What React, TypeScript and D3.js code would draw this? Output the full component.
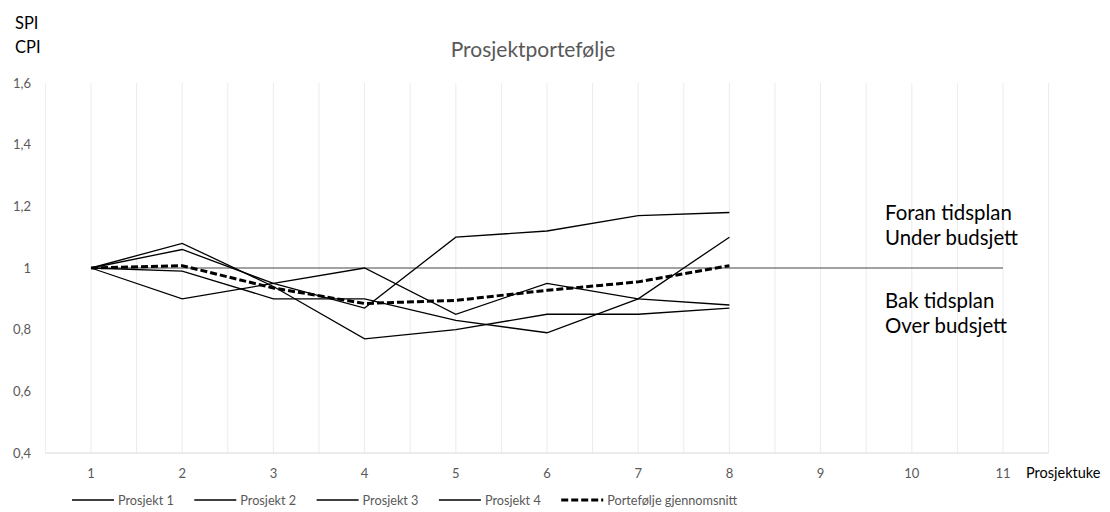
import React from "react";
import * as d3 from "d3";

const weeks = [1, 2, 3, 4, 5, 6, 7, 8];
const prosjekt1 = [1, 1.08, 0.94, 0.77, 0.8, 0.85, 0.85, 0.87];
const prosjekt2 = [1, 1.06, 0.95, 0.87, 1.1, 1.12, 1.17, 1.18];
const prosjekt3 = [1, 0.99, 0.9, 0.9, 0.83, 0.79, 0.9, 1.1];
const prosjekt4 = [1, 0.9, 0.95, 1.0, 0.85, 0.95, 0.9, 0.88];
const gjennomsnitt = [1, 1.0075, 0.935, 0.885, 0.895, 0.9275, 0.955, 1.0075];
const referanseX = [1, 11];
const referanseY = [1, 1];
const xTicks = [1, 2, 3, 4, 5, 6, 7, 8, 9, 10, 11];
const yTicks = [0.4, 0.6, 0.8, 1.0, 1.2, 1.4, 1.6];
const seriesNames = ["Prosjekt 1", "Prosjekt 2", "Prosjekt 3", "Prosjekt 4", "Portefølje gjennomsnitt"];

const W = 1110;
const H = 512;
const FONT = "Lato, 'Open Sans', sans-serif";

export default function App() {
  const x = d3.scaleLinear().domain([0.5, 11.5]).range([45.4, 1048.6]);
  const y = d3.scaleLinear().domain([0.4, 1.6]).range([453, 83]);
  const gridVals = d3.range(0.5, 11.51, 0.5);
  const fmt = (v: number) => (Math.abs(v - 1) < 1e-9 ? "1" : d3.format(".1f")(v).replace(".", ","));

  const line = d3
    .line<[number, number]>()
    .x((d) => x(d[0]))
    .y((d) => y(d[1]));

  const projects = [prosjekt1, prosjekt2, prosjekt3, prosjekt4];
  const toPts = (vals: number[]) => vals.map((v, i) => [weeks[i], v] as [number, number]);

  const legendStart = 72;
  const legendStep = 122.3;
  const legendY = 500;

  return (
    <svg width={W} height={H} style={{ position: "absolute", left: 0, top: 0, background: "#fff" }} fontFamily={FONT}>
      <rect x={0} y={0} width={W} height={H} fill="#fff" />
      {gridVals.map((g, i) => (
        <line key={"g" + i} x1={x(g)} x2={x(g)} y1={83} y2={453} stroke="#ececec" strokeWidth={1} />
      ))}
      <line x1={x(0.5)} x2={x(11.5)} y1={453} y2={453} stroke="#d9d9d9" strokeWidth={1} />
      {yTicks.map((t) => (
        <text key={"y" + t} x={31} y={y(t) + 4.5} textAnchor="end" fontSize={13} fill="#595959">
          {fmt(t)}
        </text>
      ))}
      {xTicks.map((t) => (
        <text key={"x" + t} x={x(t)} y={478} textAnchor="middle" fontSize={13} fill="#595959">
          {t}
        </text>
      ))}
      <text x={1026} y={478} fontSize={14.5} fill="#000">Prosjektuke</text>
      <text x={15} y={29} fontSize={16.5} fill="#000">SPI</text>
      <text x={15} y={53} fontSize={16.5} fill="#000">CPI</text>
      <text x={533} y={57} textAnchor="middle" fontSize={21} fill="#595959">Prosjektportefølje</text>

      <path d={line(referanseX.map((v, i) => [v, referanseY[i]] as [number, number])) || ""} fill="none" stroke="#444" strokeWidth={1} />
      {projects.map((p, i) => (
        <path key={"p" + i} d={line(toPts(p)) || ""} fill="none" stroke="#000" strokeWidth={1.3} />
      ))}
      <path d={line(toPts(gjennomsnitt)) || ""} fill="none" stroke="#000" strokeWidth={3} strokeDasharray="7,3" />

      <text x={885} y={220} fontSize={20.4} fill="#000">Foran tidsplan</text>
      <text x={885} y={245} fontSize={20.4} fill="#000">Under budsjett</text>
      <text x={885} y={308} fontSize={20.4} fill="#000">Bak tidsplan</text>
      <text x={885} y={333} fontSize={20.4} fill="#000">Over budsjett</text>

      {seriesNames.map((name, i) => {
        const lx = legendStart + i * legendStep;
        const dashed = i === 4;
        return (
          <g key={"l" + i}>
            <line
              x1={lx}
              x2={lx + 42}
              y1={legendY}
              y2={legendY}
              stroke="#000"
              strokeWidth={dashed ? 3 : 1.3}
              strokeDasharray={dashed ? "7,3" : undefined}
            />
            <text x={lx + 46} y={legendY + 4.5} fontSize={12.7} fill="#595959">
              {name}
            </text>
          </g>
        );
      })}
    </svg>
  );
}
